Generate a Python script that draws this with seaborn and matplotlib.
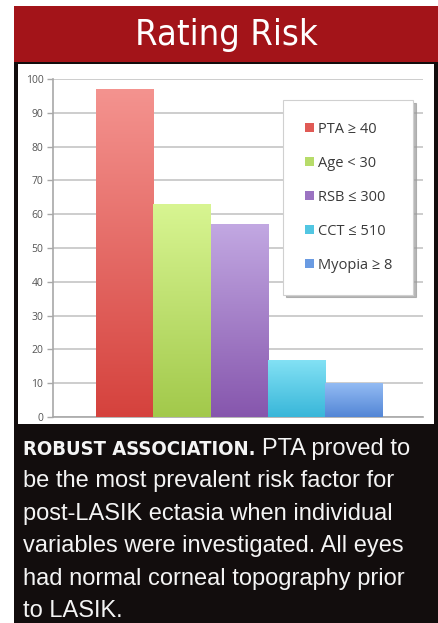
import numpy as np
import pandas as pd
import matplotlib
matplotlib.use("Agg")
import matplotlib.pyplot as plt
from matplotlib.patches import Rectangle, Patch
from matplotlib.colors import LinearSegmentedColormap
import seaborn as sns

# data
factors = ["PTA \u2265 40", "Age < 30", "RSB \u2264 300", "CCT \u2264 510", "Myopia \u2265 8"]
percent = [97, 63, 57, 17, 10]
y_ticks = list(range(0, 101, 10))

# gradient colours per bar (top, bottom)
top_colors = ["#f4938f", "#d8f592", "#c2a8e2", "#84e2f5", "#93bbf3"]
bottom_colors = ["#d5423d", "#a2c94b", "#8656ad", "#38b6d9", "#5386d6"]
legend_colors = ["#e05a55", "#b7dc6a", "#9b73c2", "#52c6e2", "#6a9be2"]

df = pd.DataFrame({"factor": factors, "percent": percent})

sns.set_style("white")
plt.rcParams["font.family"] = ["Open Sans", "DejaVu Sans"]

W, H = 439, 623
fig = plt.figure(figsize=(W / 100, H / 100), dpi=100)
fig.patch.set_facecolor("white")

# panel background: red header, black frame, white chart area
fig.patches.append(Rectangle((14 / W, 561 / H), 425 / W, 56 / H, transform=fig.transFigure,
                             facecolor="#a31419", edgecolor="none", zorder=-3))
fig.patches.append(Rectangle((14 / W, 0), 425 / W, 561 / H, transform=fig.transFigure,
                             facecolor="#120d0d", edgecolor="none", zorder=-3))
fig.patches.append(Rectangle((18 / W, 199 / H), 416 / W, 360 / H, transform=fig.transFigure,
                             facecolor="white", edgecolor="none", zorder=-2))

fig.text(226 / W, (H - 45) / H, "Rating Risk", color="white", fontsize=26,
         ha="center", va="baseline", fontstretch="condensed",
         family=["DejaVu Sans", "Liberation Sans"])

ax = fig.add_axes([53 / W, 206 / H, 370 / W, 338 / H])
ax.set_facecolor("none")
sns.barplot(data=df, x="factor", y="percent", hue="factor", palette=legend_colors,
            width=1, legend=False, ax=ax, zorder=2)

# gradient fill, clipped to each bar
for patch, c_top, c_bot in zip(ax.patches, top_colors, bottom_colors):
    x0, y0 = patch.get_x(), patch.get_y()
    w, h = patch.get_width(), patch.get_height()
    cmap = LinearSegmentedColormap.from_list("g", [c_bot, c_top])
    grad = np.linspace(0, 1, 256).reshape(-1, 1)
    im = ax.imshow(grad, cmap=cmap, origin="lower", aspect="auto",
                   extent=[x0, x0 + w, y0, y0 + h], zorder=3)
    im.set_clip_path(patch)
    patch.set_edgecolor("none")

ax.set_xlim(-1.25, 5.2)
ax.set_ylim(0, 100)
ax.set_yticks(y_ticks)
ax.set_xticks([])
ax.set_xlabel("")
ax.set_ylabel("")
ax.yaxis.grid(True, color="#c9c9c9", linewidth=1.3, zorder=0)
ax.set_axisbelow(True)
for side in ["top", "right"]:
    ax.spines[side].set_visible(False)
for side in ["left", "bottom"]:
    ax.spines[side].set_color("#a8a8a8")
    ax.spines[side].set_linewidth(1.2)
ax.tick_params(axis="y", left=True, length=4, width=1, color="#a8a8a8",
               labelsize=7.5, labelcolor="#555555", pad=3)

handles = [Patch(facecolor=c, edgecolor="none") for c in legend_colors]
leg = ax.legend(handles, factors, loc="upper left",
                bbox_to_anchor=(0.622, 0.352, 0.351, 0.586), mode="expand",
                borderaxespad=0, fontsize=10.5, labelspacing=1.3, borderpad=1.5,
                handlelength=0.6, handleheight=0.5, handletextpad=0.3,
                frameon=True, fancybox=False, framealpha=1,
                shadow={"color": "#9a9a9a", "alpha": 0.7})
leg.get_frame().set_edgecolor("#d0d0d0")
leg.get_frame().set_linewidth(0.8)
for t in leg.get_texts():
    t.set_color("#3a3a3a")
leg.set_zorder(5)

# caption
cap_family = ["Liberation Sans", "DejaVu Sans"]
cap_size = 17
baselines = [455 + 32.4 * i for i in range(6)]
bold = fig.text(23 / W, (H - baselines[0]) / H, "ROBUST ASSOCIATION.", color="#f4f4f4",
                fontsize=14.5, fontweight="bold", fontstretch="condensed",
                family=["DejaVu Sans", "Liberation Sans"], va="baseline")
fig.canvas.draw()
bb = bold.get_window_extent()
fig.text((bb.x1 + 7) / W, (H - baselines[0]) / H, "PTA proved to", color="#f4f4f4",
         fontsize=cap_size, family=cap_family, va="baseline")
lines = ["be the most prevalent risk factor for",
         "post-LASIK ectasia when individual",
         "variables were investigated. All eyes",
         "had normal corneal topography prior",
         "to LASIK."]
for line, yb in zip(lines, baselines[1:]):
    fig.text(23 / W, (H - yb) / H, line, color="#f4f4f4", fontsize=cap_size,
             family=cap_family, ha="left", va="baseline")

fig.savefig("out.png", dpi=100)
